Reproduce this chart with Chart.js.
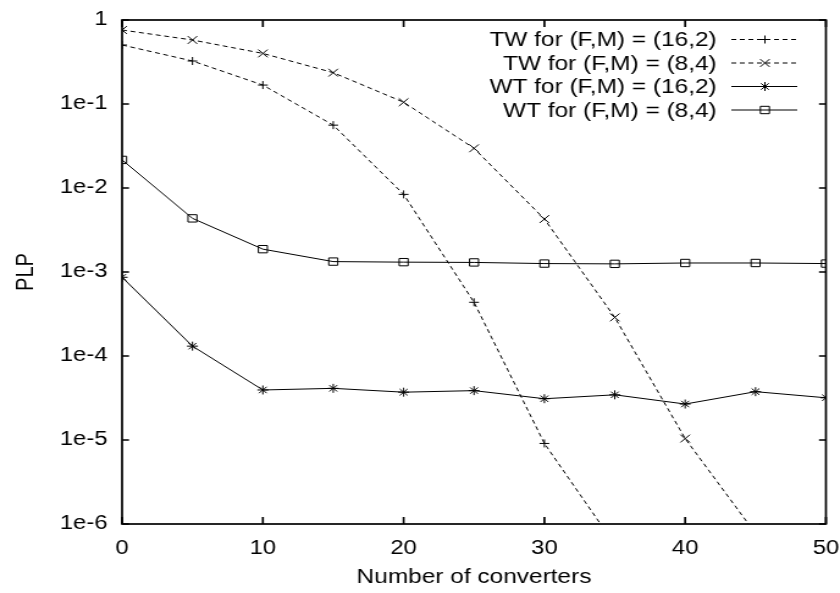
<!DOCTYPE html>
<html>
<head>
<meta charset="utf-8">
<script src="https://cdn.jsdelivr.net/npm/chart.js@4/dist/chart.umd.min.js"></script>
<style>
  html, body { margin: 0; padding: 0; background: #fff; overflow: hidden; }
  /* the reference is a gnuplot picture stretched sideways, so the canvas is too */
  #wrap { width: 688px; height: 593px; transform: scaleX(1.2209); transform-origin: 0 0; }
</style>
</head>
<body>
<div id="wrap"><canvas id="plp" width="688" height="593"></canvas></div>
<script>
const converters = [0, 5, 10, 15, 20, 25, 30, 35, 40, 45, 50];

const tw162 = [0.504, 0.325, 0.168, 0.056, 0.0084, 4.36e-4, 9.1e-6, 5.7e-7];
const tw84 = [0.76, 0.578, 0.40, 0.236, 0.105, 0.0297, 4.27e-3, 2.88e-4, 1.04e-5, 7.7e-7];
const wt162 = [8.65e-4, 1.31e-4, 3.94e-5, 4.12e-5, 3.71e-5, 3.87e-5, 3.10e-5, 3.45e-5, 2.68e-5, 3.76e-5, 3.18e-5];
const wt84 = [0.0216, 4.35e-3, 1.87e-3, 1.33e-3, 1.31e-3, 1.30e-3, 1.26e-3, 1.25e-3, 1.28e-3, 1.28e-3, 1.26e-3];

const seriesLabels = [
    'TW for (F,M) = (16,2)',
    'TW for (F,M) = (8,4)',
    'WT for (F,M) = (16,2)',
    'WT for (F,M) = (8,4)',
];

const xTicks = [0, 10, 20, 30, 40, 50];
const yTicks = [1, 1e-1, 1e-2, 1e-3, 1e-4, 1e-5, 1e-6];
const yTickLabels = ['1', '1e-1', '1e-2', '1e-3', '1e-4', '1e-5', '1e-6'];

const FAMILY = '"Liberation Sans", Arial, Helvetica, sans-serif';
const FONT = { family: FAMILY, size: 20 };
const TICK_FONT = { family: FAMILY, size: 19.5 };

function points(values) {
    return values.map((v, i) => ({ x: converters[i], y: v }));
}

function series(label, values, style, radius, dash) {
    return {
        label: label,
        data: points(values),
        borderColor: '#000',
        borderWidth: 1,
        borderDash: dash,
        pointStyle: style,
        pointRadius: radius,
        pointBorderColor: '#000',
        pointBorderWidth: 1,
        pointBackgroundColor: 'rgba(0,0,0,0)',
        tension: 0,
    };
}

// box round the plot with ticks pointing inwards, on all four sides
const frame = {
    id: 'frame',
    afterDatasetsDraw(chart) {
        const { ctx, chartArea: a, scales } = chart;
        ctx.save();
        ctx.strokeStyle = '#000';
        ctx.lineWidth = 1.7;
        ctx.strokeRect(a.left, a.top, a.right - a.left, a.bottom - a.top);
        ctx.beginPath();
        scales.x.ticks.forEach(t => {
            const px = scales.x.getPixelForValue(t.value);
            ctx.moveTo(px, a.bottom); ctx.lineTo(px, a.bottom - 7);
            ctx.moveTo(px, a.top); ctx.lineTo(px, a.top + 7);
        });
        scales.y.ticks.forEach(t => {
            const py = scales.y.getPixelForValue(t.value);
            ctx.moveTo(a.left, py); ctx.lineTo(a.left + 5.7, py);
            ctx.moveTo(a.right, py); ctx.lineTo(a.right - 5.7, py);
        });
        ctx.stroke();
        ctx.restore();
    }
};

// gnuplot-like key: text right aligned, sample line with its marker on the right
const key = {
    id: 'key',
    afterDraw(chart) {
        const ctx = chart.ctx;
        ctx.save();
        ctx.font = FONT.size + 'px ' + FONT.family;
        ctx.textAlign = 'right';
        ctx.textBaseline = 'middle';
        chart.data.datasets.forEach((ds, i) => {
            const y = 39.5 + i * 23.5;
            ctx.fillStyle = '#000';
            ctx.fillText(ds.label, 587, y + 1);
            ctx.save();
            ctx.strokeStyle = '#000';
            ctx.lineWidth = 1;
            ctx.setLineDash(ds.borderDash || []);
            ctx.beginPath();
            ctx.moveTo(599, y); ctx.lineTo(653, y);
            ctx.stroke();
            ctx.restore();
            ctx.strokeStyle = '#000';
            ctx.fillStyle = 'rgba(0,0,0,0)';
            ctx.lineWidth = 1;
            Chart.helpers.drawPoint(ctx, {
                pointStyle: ds.pointStyle, radius: ds.pointRadius, borderWidth: 1, rotation: 0
            }, 626.5, y);
        });
        ctx.restore();
    }
};

new Chart(document.getElementById('plp'), {
    type: 'line',
    data: {
        datasets: [
            series(seriesLabels[0], tw162, 'cross', 4, [4, 3]),
            series(seriesLabels[1], tw84, 'crossRot', 5.5, [4, 3]),
            series(seriesLabels[2], wt162, 'star', 4.5, []),
            series(seriesLabels[3], wt84, 'rect', 5.2, []),
        ],
    },
    options: {
        responsive: false,
        animation: false,
        events: [],
        layout: { padding: { top: 20, right: 11.5, left: 0, bottom: 0 } },
        scales: {
            x: {
                type: 'linear',
                min: 0,
                max: 50,
                afterFit(scale) {
                    scale.height = 69;
                    scale.paddingLeft = 0;
                    scale.paddingRight = 0;
                },
                afterBuildTicks(scale) { scale.ticks = xTicks.map(v => ({ value: v })); },
                grid: { display: false, drawTicks: false },
                border: { display: false },
                ticks: { color: '#000', font: TICK_FONT, padding: 13, maxRotation: 0 },
                title: {
                    display: true, text: 'Number of converters', color: '#000',
                    font: FONT, padding: { top: 0, bottom: 3.5 },
                },
            },
            y: {
                type: 'logarithmic',
                min: 1e-6,
                max: 1,
                afterFit(scale) {
                    scale.width = 100;
                    scale.paddingTop = 0;
                    scale.paddingBottom = 0;
                },
                afterBuildTicks(scale) { scale.ticks = yTicks.map(v => ({ value: v, major: true })); },
                grid: { display: false, drawTicks: false },
                border: { display: false },
                ticks: {
                    color: '#000', font: TICK_FONT, padding: 12,
                    callback: v => yTickLabels[yTicks.indexOf(v)] ?? '',
                },
                title: {
                    display: true, text: 'PLP', color: '#000',
                    font: FONT, padding: { top: 9, bottom: 0 },
                },
            },
        },
        plugins: {
            legend: { display: false },
            tooltip: { enabled: false },
        },
    },
    plugins: [frame, key],
});
</script>
</body>
</html>
